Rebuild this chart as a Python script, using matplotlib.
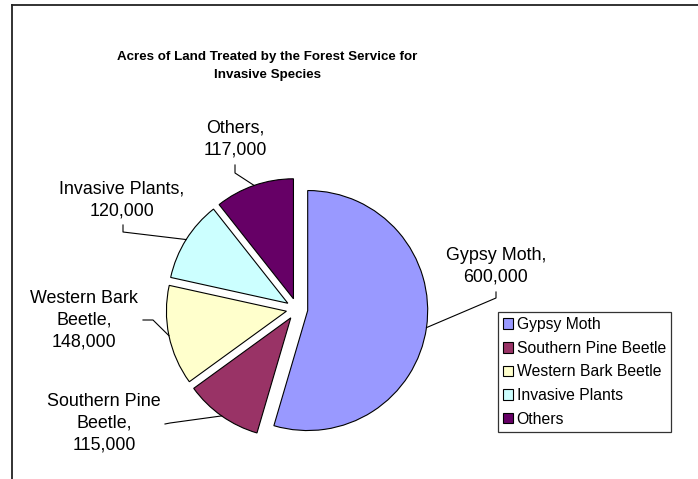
import textwrap
import matplotlib
matplotlib.use("Agg")
import matplotlib.pyplot as plt
from matplotlib.lines import Line2D
import numpy as np

# Acres treated per invasive species
species = ["Gypsy Moth", "Southern Pine Beetle", "Western Bark Beetle",
           "Invasive Plants", "Others"]
acres = [600000, 115000, 148000, 120000, 117000]
colors = ["#9999FF", "#993366", "#FFFFCC", "#CCFFFF", "#660066"]
title = "Acres of Land Treated by the Forest Service for\nInvasive Species"

plt.rcParams["font.family"] = ["Liberation Sans", "DejaVu Sans"]

W, H = 698, 479
fig = plt.figure(figsize=(W / 100, H / 100), dpi=100)

# axes spans the whole canvas; one data unit = pie radius in pixels
CX, CY, R = 297, 309, 120
ax = fig.add_axes([0, 0, 1, 1])


def px(x, y):
    """pixel position (origin top-left) -> data coords"""
    return (x - CX) / R, (CY - y) / R


wedges, _ = ax.pie(acres, colors=colors, startangle=90, counterclock=False,
                   explode=[0.09] * len(acres), radius=1, center=(0, 0),
                   wedgeprops=dict(edgecolor="black", linewidth=0.8))
# pie() resets the limits, so set them afterwards
ax.set_aspect("auto")
ax.set_xlim(-CX / R, (W - CX) / R)
ax.set_ylim(-(H - CY) / R, CY / R)
ax.axis("off")

# data labels with leader lines (label centre, then the two leader anchor points)
label_pos = [(496, 266), (104, 423), (84, 320), (122, 200), (235, 139)]
leader_pts = [
    [(496, 292), (496, 298)],
    [(165, 424), (170, 423)],
    [(143, 320), (153, 320)],
    [(123, 225), (123, 232)],
    [(235, 165), (235, 173)],
]
for w, name, val, pos, pts in zip(wedges, species, acres, label_pos, leader_pts):
    txt = textwrap.fill(name + ",", width=16) + f"\n{val:,}"
    lx, ly = px(*pos)
    ax.text(lx, ly, txt, ha="center", va="center", fontsize=12.9,
            linespacing=1.35, color="black")
    mid = np.deg2rad((w.theta1 + w.theta2) / 2)
    ex = w.center[0] + w.r * np.cos(mid)
    ey = w.center[1] + w.r * np.sin(mid)
    xs = [px(*p)[0] for p in pts] + [ex]
    ys = [px(*p)[1] for p in pts] + [ey]
    ax.plot(xs, ys, color="black", linewidth=0.8)

fig.text(267 / W, 1 - 66 / H, title, ha="center", va="center",
         fontsize=9.6, fontweight="bold", linespacing=1.75)

leg = ax.legend(wedges, species, loc="upper left",
                bbox_to_anchor=(498 / W, 1 - 312 / H), bbox_transform=fig.transFigure,
                fontsize=11.3, frameon=True, fancybox=False, borderaxespad=0,
                borderpad=0.33, labelspacing=0.55, handlelength=0.65,
                handleheight=0.65, handletextpad=0.2)
leg.get_frame().set_edgecolor("black")
leg.get_frame().set_linewidth(0.9)

# chart area border (left and top edges)
fig.add_artist(Line2D([12 / W, 12 / W], [0, 1 - 5 / H], transform=fig.transFigure,
                      color="#222222", linewidth=1.3))
fig.add_artist(Line2D([12 / W, 1], [1 - 5 / H, 1 - 5 / H], transform=fig.transFigure,
                      color="#222222", linewidth=1.3))

fig.savefig("out.png", dpi=100, facecolor="white")
